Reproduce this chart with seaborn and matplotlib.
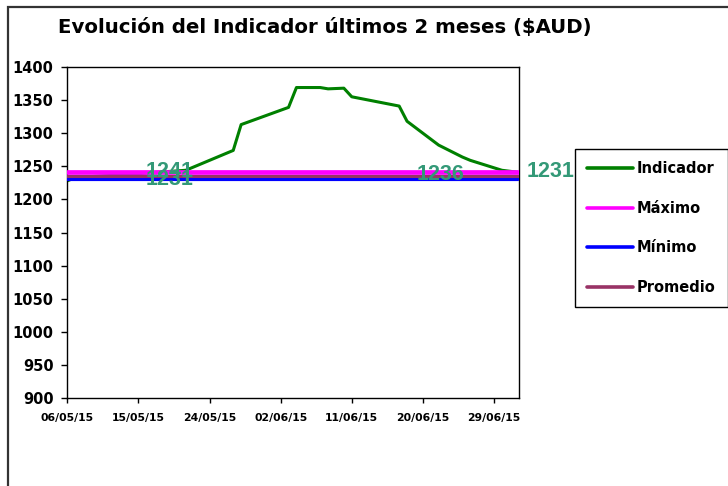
import matplotlib
matplotlib.use("Agg")
import matplotlib.pyplot as plt
import matplotlib.dates as mdates
from matplotlib.patches import Rectangle
from matplotlib.lines import Line2D
import seaborn as sns
import pandas as pd

# ---- data ----
ind_dates = ["2015-05-06", "2015-05-07", "2015-05-14", "2015-05-21", "2015-05-27",
             "2015-05-28", "2015-06-03", "2015-06-04", "2015-06-07", "2015-06-08",
             "2015-06-10", "2015-06-11", "2015-06-17", "2015-06-18", "2015-06-22",
             "2015-06-25", "2015-06-26", "2015-06-30", "2015-07-02"]
ind_values = [1228, 1233, 1238, 1244, 1274, 1313, 1339, 1369, 1369, 1367,
              1368, 1355, 1341, 1318, 1282, 1264, 1259, 1244, 1241]
max_val = 1241
min_val = 1231
avg_val = 1236
series_names = ["Indicador", "Máximo", "Mínimo", "Promedio"]
series_colors = ["#008000", "#FF00FF", "#0000FF", "#993366"]
tick_dates = ["2015-05-06", "2015-05-15", "2015-05-24", "2015-06-02",
              "2015-06-11", "2015-06-20", "2015-06-29"]
y_ticks = list(range(900, 1401, 50))
title = "Evolución del Indicador últimos 2 meses ($AUD)"

sns.set_theme(style="white")
plt.rcParams["font.family"] = ["DejaVu Sans"]
plt.rcParams["text.color"] = "black"

W, H = 728, 486
fig = plt.figure(figsize=(W / 100, H / 100), dpi=100)
fig.patch.set_facecolor("white")

# outer chart frame
fig.patches.append(Rectangle((8 / W, -0.02), 1.1, 1 - 7 / H + 0.02, transform=fig.transFigure,
                             fill=False, edgecolor="#333333", lw=1.6))

ax = fig.add_axes([67.3 / W, 1 - 398 / H, (519 - 67.3) / W, (398 - 67) / H])
ax.set_facecolor("white")

start = pd.Timestamp(ind_dates[0])
end = pd.Timestamp(ind_dates[-1])

df_ind = pd.DataFrame({"fecha": pd.to_datetime(ind_dates), "valor": ind_values})
sns.lineplot(data=df_ind, x="fecha", y="valor", color=series_colors[0], lw=2.2, ax=ax, zorder=2)

df_h = pd.DataFrame({
    "fecha": [start, end] * 3,
    "valor": [max_val, max_val, min_val, min_val, avg_val, avg_val],
    "serie": ["Máximo"] * 2 + ["Mínimo"] * 2 + ["Promedio"] * 2,
})
widths = {"Máximo": 3.4, "Mínimo": 3.0, "Promedio": 2.2}
zs = {"Máximo": 3, "Mínimo": 3, "Promedio": 4}
for name, col in zip(series_names[1:], series_colors[1:]):
    sub = df_h[df_h["serie"] == name]
    sns.lineplot(data=sub, x="fecha", y="valor", color=col, lw=widths[name], ax=ax,
                 zorder=zs[name])

ax.set_xlim(start, end + pd.Timedelta(hours=4))
ax.set_ylim(900, 1400)
ax.set_yticks(y_ticks)
ax.set_xticks(pd.to_datetime(tick_dates))
ax.xaxis.set_major_formatter(mdates.DateFormatter("%d/%m/%y"))
ax.set_xlabel("")
ax.set_ylabel("")
for s in ax.spines.values():
    s.set_visible(True)
    s.set_color("black")
    s.set_linewidth(1.0)
ax.tick_params(axis="y", direction="out", length=4, width=1, color="black", pad=6,
               left=True, labelsize=10.5, labelcolor="black")
ax.tick_params(axis="x", direction="out", length=3.5, width=1, color="black", pad=7,
               bottom=True, labelsize=7.8, labelcolor="black")
for lab in ax.get_yticklabels() + ax.get_xticklabels():
    lab.set_fontweight("bold")
ax.grid(False)

# data labels
lab_col = "#339977"
lab_kw = dict(color=lab_col, fontsize=15.5, fontweight="bold", ha="center", va="center",
              family=["Liberation Sans", "DejaVu Sans"], clip_on=False, zorder=6)
ax.text(pd.Timestamp("2015-05-19"), max_val + 1.5, str(max_val), **lab_kw)
ax.text(pd.Timestamp("2015-05-19"), min_val - 0.5, str(min_val), **lab_kw)
ax.text(pd.Timestamp("2015-06-22") + pd.Timedelta(hours=5), avg_val + 2, str(avg_val), **lab_kw)
ax.text(pd.Timestamp("2015-07-06") + pd.Timedelta(hours=3), max_val + 1.5, str(min_val), **lab_kw)

# title
fig.text(58 / W, 1 - 33.3 / H, title, fontsize=14.2, fontweight="bold", ha="left",
         va="baseline", color="black")

# legend
handles = [Line2D([0], [0], color=c, lw=2.6) for c in series_colors]
leg = fig.legend(handles, series_names, loc="upper left",
                 bbox_to_anchor=(575 / W, 1 - 149 / H), bbox_transform=fig.transFigure,
                 borderaxespad=0,
                 frameon=True, fancybox=False, shadow=False, framealpha=1,
                 edgecolor="black", borderpad=0.85, labelspacing=1.68,
                 handlelength=3.1, handletextpad=0.3,
                 prop={"weight": "bold", "size": 10.5})
leg.get_frame().set_linewidth(1.0)
for t in leg.get_texts():
    t.set_color("black")

fig.savefig("out.png", dpi=100, facecolor="white")
